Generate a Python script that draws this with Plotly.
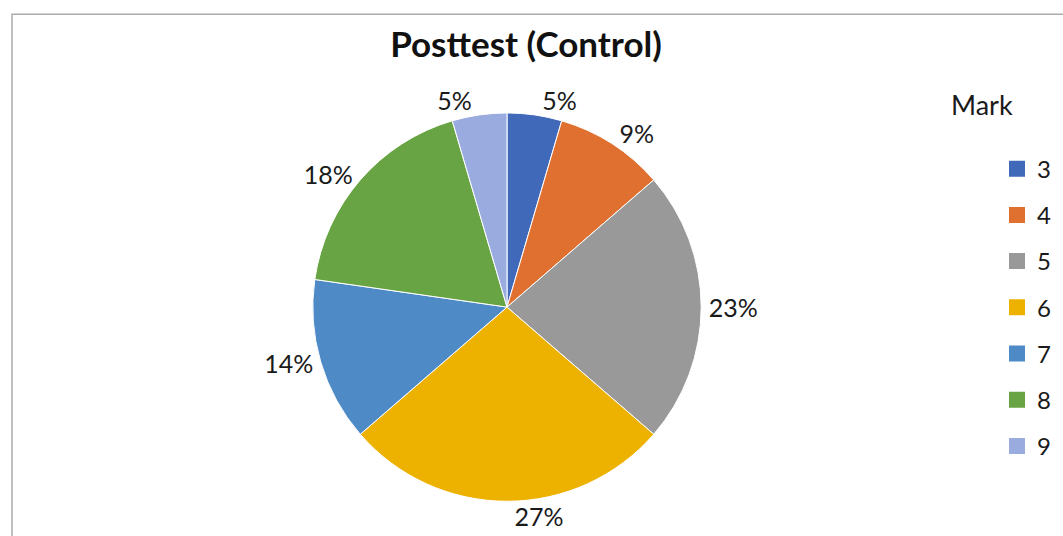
import plotly.graph_objects as go

marks = ["3", "4", "5", "6", "7", "8", "9"]
counts = [1, 2, 5, 6, 3, 4, 1]
colors = ["#4169B9", "#E07030", "#999999", "#EDB100", "#4E8AC6", "#68A443", "#9AACDF"]

W, H = 1063, 536
FONT = "Lato"
R = 196
CX, CY = 507, 310

fig = go.Figure()
fig.add_trace(go.Pie(
    labels=marks, values=counts, sort=False, direction="clockwise", rotation=0,
    marker=dict(colors=colors, line=dict(color="white", width=1)),
    texttemplate="%{percent:.0%}", textposition="outside",
    textfont=dict(family=FONT, size=25, color="#1a1a1a"),
    showlegend=False, hoverinfo="label+percent",
    domain=dict(x=[(CX - R) / W, (CX + R) / W], y=[(H - CY - R) / H, (H - CY + R) / H]),
))

for m, c in zip(marks, colors):
    fig.add_trace(go.Scatter(
        x=[None], y=[None], mode="markers", name=m, legendgroup=m,
        marker=dict(symbol="square", size=16, color=c),
    ))

fig.update_layout(
    width=W, height=H, margin=dict(l=0, r=0, t=0, b=0),
    paper_bgcolor="white", plot_bgcolor="white",
    xaxis=dict(visible=False), yaxis=dict(visible=False),
    title=dict(text="<b>Posttest (Control)</b>", x=526 / W, xanchor="center",
               y=1 - 45 / H, yanchor="middle",
               font=dict(family=FONT, size=35, color="#111111")),
    legend=dict(x=997 / W, xanchor="left", y=1 - 148 / H, yanchor="top",
                font=dict(family=FONT, size=24, color="#1a1a1a"),
                tracegroupgap=12, itemsizing="trace", bgcolor="rgba(0,0,0,0)"),
    annotations=[dict(text="Mark", x=982 / W, y=1 - 105 / H, xref="paper", yref="paper",
                      showarrow=False, xanchor="center", yanchor="middle",
                      font=dict(family=FONT, size=27, color="#1a1a1a"))],
    shapes=[dict(type="rect", xref="paper", yref="paper", x0=12 / W, y0=-0.05,
                 x1=1.05, y1=1 - 14.5 / H, line=dict(color="#ABABAB", width=1.5))],
)

fig.write_html("out.html", config={"displayModeBar": False},
               post_script="document.body.style.margin='0';document.body.style.overflow='hidden';")
